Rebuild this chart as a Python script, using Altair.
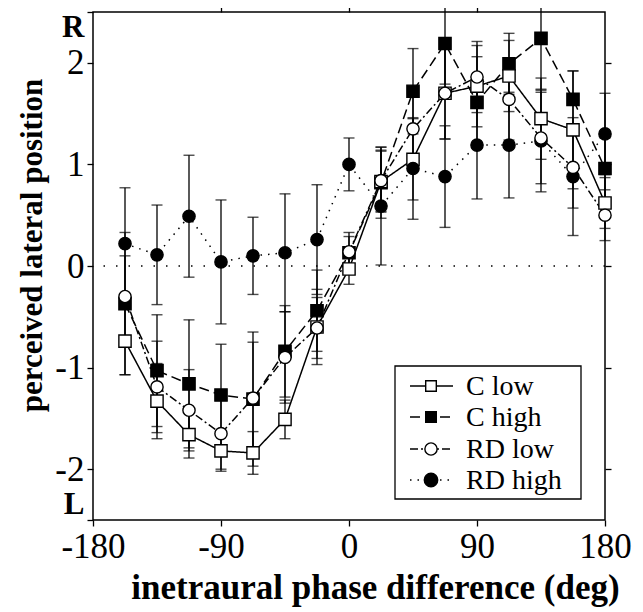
import altair as alt
import pandas as pd

# ---- data ----
phase = [-157.5, -135, -112.5, -90, -67.5, -45, -22.5, 0, 22.5, 45, 67.5, 90, 112.5, 135, 157.5, 180]
series_names = ["C low", "C high", "RD low", "RD high"]

c_low = [-0.74, -1.33, -1.66, -1.82, -1.84, -1.51, -0.60, -0.03, 0.83, 1.05, 1.70, 1.77, 1.87, 1.45, 1.34, 0.62]
c_high = [-0.37, -1.03, -1.16, -1.27, -1.31, -0.84, -0.44, 0.13, 0.82, 1.72, 2.19, 1.61, 1.99, 2.24, 1.64, 0.96]
rd_low = [-0.30, -1.19, -1.42, -1.65, -1.30, -0.90, -0.61, 0.14, 0.84, 1.35, 1.70, 1.86, 1.64, 1.26, 0.97, 0.50]
rd_high = [0.22, 0.11, 0.49, 0.04, 0.10, 0.13, 0.26, 1.00, 0.59, 0.96, 0.88, 1.19, 1.19, 1.23, 0.88, 1.30]

c_low_err = [0.33, 0.37, 0.23, 0.20, 0.21, 0.19, 0.37, 0.15, 0.30, 0.40, 0.45, 0.40, 0.35, 0.40, 0.58, 0.25]
c_high_err = [0.70, 0.55, 0.63, 0.50, 0.66, 0.45, 0.40, 0.20, 0.35, 0.42, 0.40, 0.45, 0.30, 0.50, 0.28, 0.30]
rd_low_err = [0.40, 0.45, 0.40, 0.35, 0.55, 0.45, 0.30, 0.15, 0.30, 0.40, 0.45, 0.35, 0.40, 0.45, 0.40, 0.25]
rd_high_err = [0.55, 0.49, 0.60, 0.61, 0.38, 0.58, 0.54, 0.26, 0.58, 0.50, 0.50, 0.53, 0.52, 0.50, 0.58, 0.40]

x_ticks = [-180, -90, 0, 90, 180]
y_ticks = [-2.5, -2, -1, 0, 1, 2, 2.5]

rows = []
for name, vals, errs in zip(series_names, [c_low, c_high, rd_low, rd_high],
                            [c_low_err, c_high_err, rd_low_err, rd_high_err]):
    for xv, v, e in zip(phase, vals, errs):
        rows.append({"series": name, "phase": xv, "pos": v, "lo": v - e, "hi": v + e})
df = pd.DataFrame(rows)

# ---- styles ----
FONT = "Liberation Serif"
dashes = [[1, 0], [10, 5], [8, 3, 2, 3], [1.5, 6]]
shapes = ["square", "square", "circle", "circle"]
fills = ["white", "black", "white", "black"]
sizes = [150, 150, 200, 240]

xscale = alt.Scale(domain=[-180, 180], nice=False, zero=False)
yscale = alt.Scale(domain=[-2.5, 2.5], nice=False, zero=False)
ytitle = "perceived lateral position"
xtitle = "inetraural phase difference (deg)"

num_expr = "datum.value < 0 ? '-' + abs(datum.value) : '' + datum.value"
end_test = "abs(datum.value) == 2.5"

X = alt.X("phase:Q", scale=xscale, title=xtitle,
          axis=alt.Axis(values=x_ticks, labelFlush=False, labelOverlap=False,
                        labelExpr=num_expr, titleX=282))
Y = alt.Y("pos:Q", scale=yscale, title=ytitle,
          axis=alt.Axis(values=y_ticks, labelFlush=True, labelOverlap=False, titleY=233,
                        labelExpr="datum.value == 2.5 ? 'R' : (datum.value == -2.5 ? 'L' : (" + num_expr + "))",
                        labelFontWeight={"condition": {"test": end_test, "value": "bold"}, "value": "normal"},
                        labelFontSize={"condition": {"test": end_test, "value": 31}, "value": 35}))

base = alt.Chart(df)

zero_line = alt.Chart(pd.DataFrame({"z": [0]})).mark_rule(
    color="black", strokeWidth=1.3, strokeDash=[1.5, 11]
).encode(y=alt.Y("z:Q", scale=yscale, title=ytitle))

err_rule = base.mark_rule(color="black", strokeWidth=1.3).encode(
    x=X, y=alt.Y("lo:Q", scale=yscale, title=ytitle), y2="hi:Q")
cap_lo = base.mark_tick(orient="horizontal", size=11, thickness=1.4, color="black").encode(
    x=X, y=alt.Y("lo:Q", scale=yscale, title=ytitle))
cap_hi = base.mark_tick(orient="horizontal", size=11, thickness=1.4, color="black").encode(
    x=X, y=alt.Y("hi:Q", scale=yscale, title=ytitle))

lines = base.mark_line(color="black", strokeWidth=1.5).encode(
    x=X, y=Y, detail="series:N",
    strokeDash=alt.StrokeDash("series:N", scale=alt.Scale(domain=series_names, range=dashes), legend=None))

points = base.mark_point(stroke="black", strokeWidth=1.4, opacity=1, fillOpacity=1).encode(
    x=X, y=Y,
    shape=alt.Shape("series:N", scale=alt.Scale(domain=series_names, range=shapes), legend=None),
    fill=alt.Fill("series:N", scale=alt.Scale(domain=series_names, range=fills), legend=None),
    size=alt.Size("series:N", scale=alt.Scale(domain=series_names, range=sizes), legend=None),
    order=alt.Order("series:N"))

main = alt.layer(zero_line, err_rule, cap_lo, cap_hi, lines, points)

frame = base.mark_point(opacity=0).encode(
    x=alt.X("phase:Q", scale=xscale,
            axis=alt.Axis(orient="top", labels=False, title=None, values=[-90, 0, 90])),
    y=alt.Y("pos:Q", scale=yscale,
            axis=alt.Axis(orient="right", labels=False, title=None, values=[-2, -1, 0, 1, 2])))

# ---- manual legend (pixel layout) ----
leg_layers = []
box = alt.Chart(pd.DataFrame({"k": [0]})).mark_rect(
    fill="white", stroke="black", strokeWidth=1.3
).encode(x=alt.value(302), x2=alt.value(488), y=alt.value(354), y2=alt.value(487))
leg_layers.append(box)
row_y = [374, 405, 437, 468]
for name, dash, shp, fl, sz, ry in zip(series_names, dashes, shapes, fills, sizes, row_y):
    d = pd.DataFrame({"label": [name]})
    leg_layers.append(alt.Chart(d).mark_rule(color="black", strokeWidth=1.5, strokeDash=dash).encode(
        x=alt.value(317), x2=alt.value(360), y=alt.value(ry)))
    leg_layers.append(alt.Chart(d).mark_point(shape=shp, fill=fl, stroke="black", strokeWidth=1.4,
                                              size=sz * 0.75, opacity=1, fillOpacity=1).encode(
        x=alt.value(338), y=alt.value(ry)))
    leg_layers.append(alt.Chart(d).mark_text(align="left", baseline="middle", font=FONT,
                                             fontSize=28, color="black").encode(
        x=alt.value(373), y=alt.value(ry + 1), text="label:N"))

chart = alt.layer(main, frame, *leg_layers).resolve_axis(
    x="independent", y="independent"
).properties(
    width=512, height=508,
    autosize=alt.AutoSizeParams(type="none"),
    padding={"left": 85, "top": 4, "right": 30, "bottom": 92},
    background="white",
).configure_view(
    stroke="black", strokeWidth=1.5
).configure_axis(
    domain=False, grid=False,
    tickColor="black", tickSize=6, tickWidth=1.3,
    labelFont=FONT, labelFontSize=35, labelColor="black", labelPadding=3,
    titleFont=FONT, titleFontSize=35, titleFontWeight="bold", titleColor="black",
).configure_axisY(
    titleFontSize=31, titlePadding=6, labelPadding=3
).configure_axisX(
    titlePadding=6, labelPadding=3
)

chart.save("out.html", embed_options={"renderer": "svg", "actions": False})
